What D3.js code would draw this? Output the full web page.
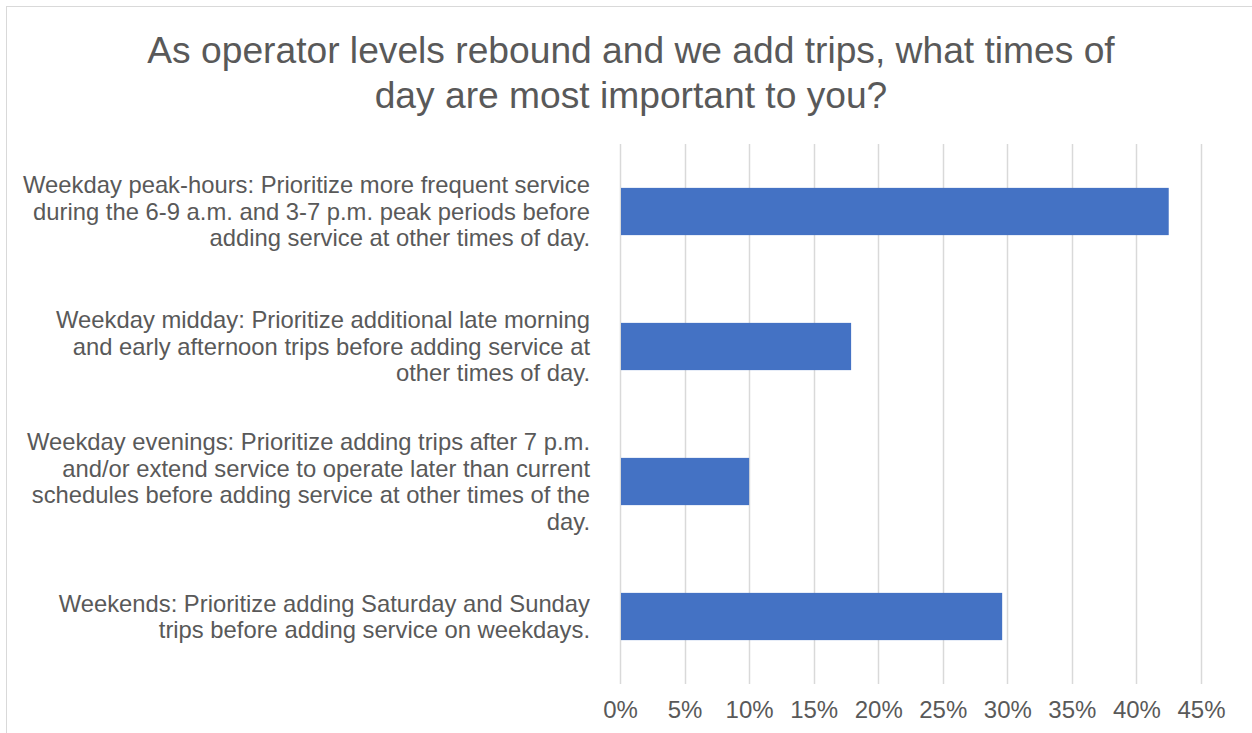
<!DOCTYPE html>
<html><head><meta charset="utf-8">
<script src="https://cdn.jsdelivr.net/npm/d3@7"></script>
<style>html,body{margin:0;padding:0;background:#fff;}svg{display:block;}</style>
</head><body>
<svg id="chart" width="1252" height="733"></svg>
<script>
const titleLines = ["As operator levels rebound and we add trips, what times of", "day are most important to you?"];
const categories = [
  "Weekday peak-hours: Prioritize more frequent service\nduring the 6-9 a.m. and 3-7 p.m. peak periods before\nadding service at other times of day.",
  "Weekday midday: Prioritize additional late morning\nand early afternoon trips before adding service at\nother times of day.",
  "Weekday evenings: Prioritize adding trips after 7 p.m.\nand/or extend service to operate later than current\nschedules before adding service at other times of the\nday.",
  "Weekends: Prioritize adding Saturday and Sunday\ntrips before adding service on weekdays."
];
const values = [0.425, 0.179, 0.100, 0.296];
const tickValues = [0, 0.05, 0.10, 0.15, 0.20, 0.25, 0.30, 0.35, 0.40, 0.45];

const svg = d3.select("#chart");
const font = "'Liberation Sans', Arial, sans-serif";
const grey = "#595959";

// chart border
svg.append("rect").attr("x", 6.5).attr("y", 6.5).attr("width", 1260).attr("height", 740)
  .attr("fill", "none").attr("stroke", "#d9d9d9").attr("stroke-width", 1);

const plot = {left: 620, right: 1201, top: 144, bottom: 684};
const x = d3.scaleLinear().domain([0, 0.45]).range([plot.left, plot.right]);
const y = d3.scaleBand().domain(d3.range(categories.length)).range([plot.top, plot.bottom])
  .paddingInner(0.65).paddingOuter(0.325);

// gridlines
svg.append("g").selectAll("line").data(tickValues).join("line")
  .attr("x1", d => Math.round(x(d)) + 0.5).attr("x2", d => Math.round(x(d)) + 0.5)
  .attr("y1", plot.top).attr("y2", plot.bottom)
  .attr("stroke", "#d9d9d9").attr("stroke-width", 1.5);

// bars
svg.append("g").selectAll("rect").data(values).join("rect")
  .attr("x", x(0) + 1).attr("y", (d, i) => y(i))
  .attr("width", d => x(d) - x(0) - 1).attr("height", y.bandwidth())
  .attr("fill", "#4472C4");

// x axis tick labels
const xAxis = d3.axisBottom(x).tickValues(tickValues).tickFormat(d3.format(".0%")).tickSize(0).tickPadding(0);
const gx = svg.append("g").attr("transform", `translate(0,${plot.bottom + 26})`).call(xAxis);
gx.select(".domain").remove();
gx.selectAll("text").attr("font-family", font).attr("font-size", 24).attr("fill", grey).attr("dy", "0.35em");

// category labels
const lh = 26.5;
const gl = svg.append("g");
categories.forEach((c, i) => {
  const lines = c.split("\n");
  const cy = y(i) + y.bandwidth() / 2;
  const t = gl.append("text").attr("x", 590).attr("text-anchor", "end")
    .attr("font-family", font).attr("font-size", 23.8).attr("fill", grey);
  lines.forEach((ln, j) => {
    t.append("tspan").attr("x", 590)
      .attr("y", cy + (j - (lines.length - 1) / 2) * lh).attr("dy", "0.35em").text(ln);
  });
});

// title
const tt = svg.append("text").attr("text-anchor", "middle").attr("font-family", font)
  .attr("font-size", 37.2).attr("fill", grey);
titleLines.forEach((ln, j) => {
  tt.append("tspan").attr("x", 631).attr("y", 50 + j * 45).attr("dy", "0.35em").text(ln);
});
</script>
</body></html>
